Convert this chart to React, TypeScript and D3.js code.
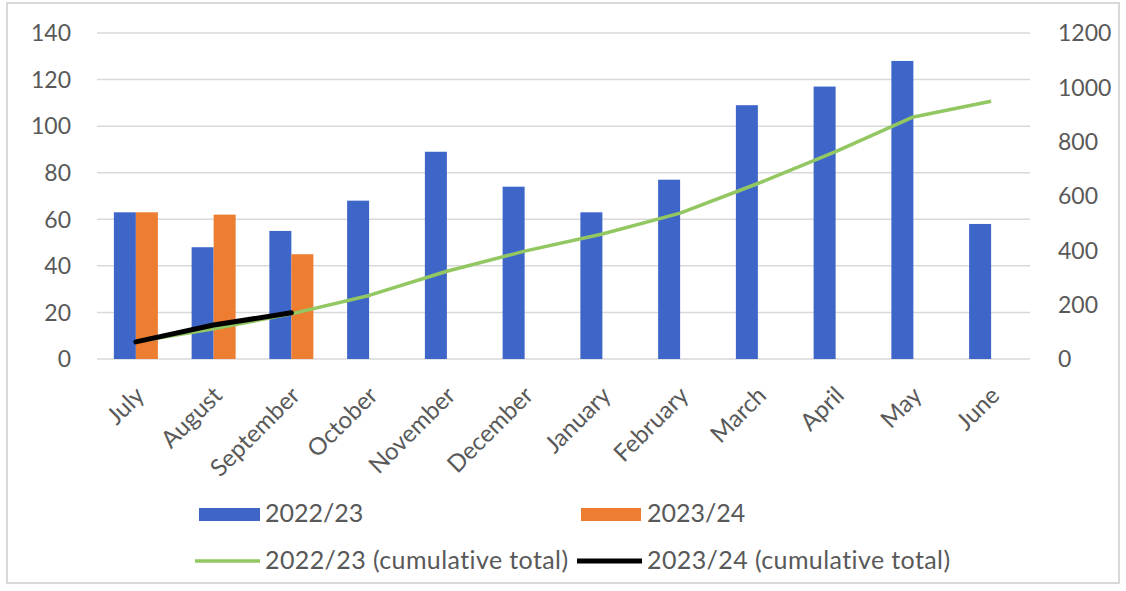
import React from "react";
import * as d3 from "d3";

// Monthly counts per financial year
const months = [
  "July", "August", "September", "October", "November", "December",
  "January", "February", "March", "April", "May", "June",
];
const fy2223 = [63, 48, 55, 68, 89, 74, 63, 77, 109, 117, 128, 58];
const fy2324 = [63, 62, 45];
// Running totals (right axis)
const cum2223 = [63, 111, 166, 234, 323, 397, 460, 537, 646, 763, 891, 949];
const cum2324 = [63, 125, 170];

const leftTicks = [0, 20, 40, 60, 80, 100, 120, 140];
const rightTicks = [0, 200, 400, 600, 800, 1000, 1200];

const W = 1126;
const H = 591;
const FONT = "Lato, 'Open Sans', sans-serif";
const TEXT = "#595959";
const GRID = "#d9d9d9";
const BLUE = "#3e66c9";
const ORANGE = "#ed7d31";
const GREEN = "#93c762";

export default function App() {
  const plotL = 97;
  const plotR = 1030;
  const plotT = 33;
  const plotB = 359;

  const x = d3
    .scaleBand<string>()
    .domain(months)
    .range([plotL, plotR])
    .paddingInner(0.434)
    .paddingOuter(0.217);
  const x1 = d3
    .scaleBand<string>()
    .domain(["a", "b"])
    .range([0, x.bandwidth()]);
  const yL = d3.scaleLinear().domain([0, 140]).range([plotB, plotT]);
  const yR = d3.scaleLinear().domain([0, 1200]).range([plotB, plotT]);
  const cx = (m: string) => (x(m) as number) + x.bandwidth() / 2;

  const line = d3
    .line<number>()
    .x((_, i) => cx(months[i]))
    .y((v) => yR(v));

  return (
    <svg
      width={W}
      height={H}
      style={{ position: "absolute", left: 0, top: 0, background: "#fff" }}
      fontFamily={FONT}
    >
      <rect x={0} y={0} width={W} height={H} fill="#fff" />
      <rect x={7} y={3} width={1112} height={580} fill="none" stroke={GRID} strokeWidth={2} />

      {/* gridlines */}
      {leftTicks.map((t) => (
        <line
          key={"g" + t}
          x1={plotL}
          x2={plotR}
          y1={yL(t)}
          y2={yL(t)}
          stroke={GRID}
          strokeWidth={1.5}
        />
      ))}

      {/* left axis labels */}
      {leftTicks.map((t) => (
        <text
          key={"l" + t}
          x={71}
          y={yL(t)}
          dy="0.36em"
          textAnchor="end"
          fontSize={23}
          fill={TEXT}
        >
          {t}
        </text>
      ))}

      {/* right axis labels */}
      {rightTicks.map((t) => (
        <text
          key={"r" + t}
          x={1058}
          y={yR(t)}
          dy="0.36em"
          textAnchor="start"
          fontSize={23}
          fill={TEXT}
        >
          {t}
        </text>
      ))}

      {/* bars */}
      {fy2223.map((v, i) => (
        <rect
          key={"b" + i}
          x={(x(months[i]) as number) + (x1("a") as number)}
          y={yL(v)}
          width={x1.bandwidth()}
          height={yL(0) - yL(v)}
          fill={BLUE}
        />
      ))}
      {fy2324.map((v, i) => (
        <rect
          key={"o" + i}
          x={(x(months[i]) as number) + (x1("b") as number)}
          y={yL(v)}
          width={x1.bandwidth()}
          height={yL(0) - yL(v)}
          fill={ORANGE}
        />
      ))}

      {/* cumulative lines */}
      <path d={line(cum2223) || ""} fill="none" stroke={GREEN} strokeWidth={3.5} strokeLinejoin="round" />
      <path d={line(cum2324) || ""} fill="none" stroke="#000" strokeWidth={5} strokeLinejoin="round" strokeLinecap="round" />

      {/* category labels */}
      {months.map((m) => (
        <text
          key={"x" + m}
          transform={`translate(${cx(m) + 4},${plotB + 32}) rotate(-45)`}
          textAnchor="end"
          dy="0.35em"
          fontSize={24}
          fill={TEXT}
        >
          {m}
        </text>
      ))}

      {/* legend */}
      <rect x={199} y={508} width={61} height={13} fill={BLUE} />
      <text x={265} y={522} fontSize={25} fill={TEXT}>2022/23</text>
      <rect x={581} y={508} width={60} height={13} fill={ORANGE} />
      <text x={647} y={522} fontSize={25} fill={TEXT}>2023/24</text>
      <line x1={195} x2={260} y1={561} y2={561} stroke={GREEN} strokeWidth={3.5} />
      <text x={265} y={569} fontSize={25} letterSpacing={0.4} fill={TEXT}>2022/23 (cumulative total)</text>
      <line x1={577} x2={642} y1={561} y2={561} stroke="#000" strokeWidth={5} />
      <text x={647} y={569} fontSize={25} letterSpacing={0.4} fill={TEXT}>2023/24 (cumulative total)</text>
    </svg>
  );
}
